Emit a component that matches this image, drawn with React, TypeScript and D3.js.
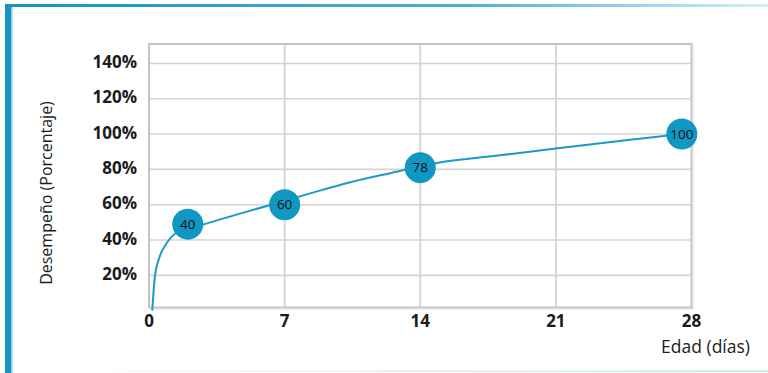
import React from "react";
import * as d3 from "d3";

const xTicks = [0, 7, 14, 21, 28];
const yTicks = [20, 40, 60, 80, 100, 120, 140];
const curveDays = [0.17, 0.3, 0.55, 0.9, 1.4, 2.7, 6.3, 8.5, 10.5, 12.5, 14.8, 18, 21, 24.5, 27.5];
const curvePct = [0, 19, 30.5, 38, 44, 48.5, 60, 67, 73, 78, 83.5, 87.8, 91.8, 96.3, 100];
const bubbleDays = [2, 7, 14, 27.5];
const bubblePct = [49, 60, 81, 100];
const bubbleLabels = ["40", "60", "78", "100"];
const yTitle = "Desempeño (Porcentaje)";
const xTitle = "Edad (días)";

const W = 768;
const H = 373;

export default function App() {
  const x = d3.scaleLinear().domain([0, 28]).range([149, 691.5]);
  const y = d3.scaleLinear().domain([1.8, 151]).range([307.5, 44]);
  const line = d3
    .line<number>()
    .x((_, i) => x(curveDays[i]))
    .y((d) => y(d))
    .curve(d3.curveMonotoneX);
  const font = "'Open Sans', 'DejaVu Sans', sans-serif";
  const [x0, x1] = x.range();
  const [yb, yt] = y.range();
  return (
    <svg
      width={W}
      height={H}
      style={{ position: "absolute", left: 0, top: 0, display: "block", background: "#fff" }}
    >
      <defs>
        <linearGradient id="topg" x1="0" x2="1" y1="0" y2="0">
          <stop offset="0" stopColor="#1594c0" />
          <stop offset="0.6" stopColor="#4bb0d2" />
          <stop offset="1" stopColor="#d6eef6" />
        </linearGradient>
        <linearGradient id="botg" x1="0" x2="1" y1="0" y2="0">
          <stop offset="0" stopColor="#ffffff" />
          <stop offset="1" stopColor="#bfe3ef" />
        </linearGradient>
      </defs>
      {/* frame decorations */}
      <rect x={5} y={4} width={763} height={3} fill="url(#topg)" />
      <rect x={12} y={370.5} width={756} height={1.5} fill="url(#botg)" />
      <rect x={5} y={4} width={6} height={369} fill="#1696c2" />
      <rect x={11} y={7} width={1.5} height={366} fill="#8fd0e6" />

      {/* gridlines */}
      {yTicks.map((t) => (
        <line key={"gy" + t} x1={x0} x2={x1} y1={y(t)} y2={y(t)} stroke="#d3d3d3" strokeWidth={1.6} />
      ))}
      {xTicks.slice(1, -1).map((t) => (
        <line key={"gx" + t} x1={x(t)} x2={x(t)} y1={yt} y2={yb} stroke="#d3d3d3" strokeWidth={1.8} />
      ))}
      {/* plot frame */}
      <rect x={x0} y={yt} width={x1 - x0} height={yb - yt} fill="none" stroke="#c4c4c4" strokeWidth={2} />
      <line x1={x1 + 1.5} x2={x1 + 1.5} y1={yt + 1} y2={yb + 1.5} stroke="#e2e2e2" strokeWidth={1.5} />
      <line x1={x0 + 1} x2={x1 + 1.5} y1={yb + 1.5} y2={yb + 1.5} stroke="#e2e2e2" strokeWidth={1.5} />

      {/* y tick labels */}
      {yTicks.map((t) => (
        <text
          key={"ly" + t}
          x={137}
          y={y(t)}
          textAnchor="end"
          dominantBaseline="middle"
          fontFamily={font}
          fontWeight={700}
          fontSize={17}
          fill="#1b1b1b"
        >
          {t}%
        </text>
      ))}
      {/* x tick labels */}
      {xTicks.map((t) => (
        <text
          key={"lx" + t}
          x={x(t)}
          y={327}
          textAnchor="middle"
          fontFamily={font}
          fontWeight={700}
          fontSize={17}
          fill="#1b1b1b"
        >
          {t}
        </text>
      ))}

      {/* axis titles */}
      <text
        transform={`translate(52,${193}) rotate(-90)`}
        textAnchor="middle"
        fontFamily={font}
        fontSize={16}
        fill="#1b1b1b"
      >
        {yTitle}
      </text>
      <text x={750} y={353} textAnchor="end" fontFamily={font} fontSize={17.5} fill="#1b1b1b">
        {xTitle}
      </text>

      {/* curve */}
      <path d={line(curvePct) || ""} fill="none" stroke="#1a9bc7" strokeWidth={2} />

      {/* bubbles */}
      {bubbleDays.map((d, i) => (
        <g key={"b" + i}>
          <circle cx={x(d)} cy={y(bubblePct[i])} r={15.5} fill="#1097c2" />
          <text
            x={x(d)}
            y={y(bubblePct[i]) + 1}
            textAnchor="middle"
            dominantBaseline="middle"
            fontFamily={font}
            fontSize={13.5}
            fill="#111"
          >
            {bubbleLabels[i]}
          </text>
        </g>
      ))}
    </svg>
  );
}
